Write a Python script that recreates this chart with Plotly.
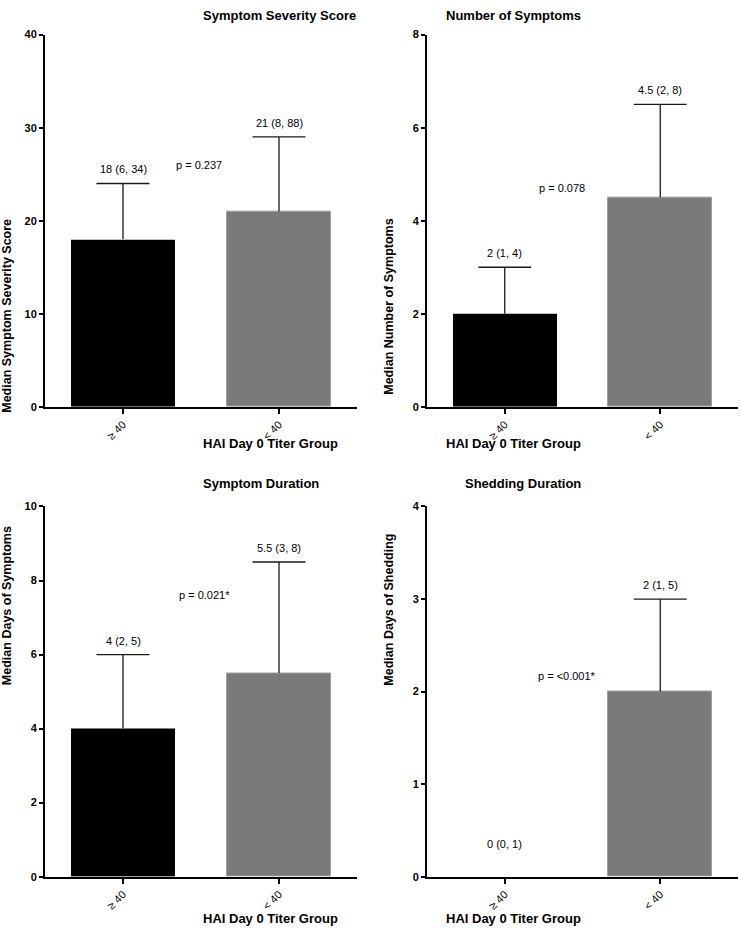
import plotly.graph_objects as go

groups = ["≥ 40", "< 40"]
titles = ["Symptom Severity Score", "Number of Symptoms", "Symptom Duration", "Shedding Duration"]
ytitles = ["Median Symptom Severity Score", "Median Number of Symptoms",
           "Median Days of Symptoms", "Median Days of Shedding"]
medians = [[18, 21], [2, 4.5], [4, 5.5], [0, 2]]
err_top = [[24, 29], [3, 6.5], [6, 8.5], [None, 3]]
labels = [["18 (6, 34)", "21 (8, 88)"], ["2 (1, 4)", "4.5 (2, 8)"],
          ["4 (2, 5)", "5.5 (3, 8)"], ["0 (0, 1)", "2 (1, 5)"]]
label_y = [[24, 29], [3, 6.5], [6, 8.5], [0.2, 3]]
pvals = ["p = 0.237", "p = 0.078", "p = 0.021*", "p = <0.001*"]
p_pos = [(0.49, 26), (0.37, 4.7), (0.52, 7.6), (0.40, 2.17)]
ymax = [40, 8, 10, 4]
ydtick = [10, 2, 2, 1]

W, H = 740, 934
xdom_px = [(45, 357), (427, 738), (45, 357), (427, 738)]
ydom_px = [(29, 406), (29, 406), (507, 882), (507, 882)]
bar_colors = ["#000000", "#7a7a7a"]
line_colors = ["#000000", "#a0a0a0"]
line_widths = [0, 1]
CAP = 0.17  # half-width of error-bar caps, in category units
FONT = "Liberation Sans, Arial, sans-serif"

fig = go.Figure()
annotations = []
for i in range(4):
    xa = "x" if i == 0 else f"x{i+1}"
    ya = "y" if i == 0 else f"y{i+1}"
    fig.add_trace(go.Bar(
        x=[0, 1], y=medians[i], xaxis=xa, yaxis=ya, width=0.67,
        marker=dict(color=bar_colors, line=dict(color=line_colors, width=line_widths)),
        showlegend=False, hoverinfo="skip"))
    ex, ey = [], []
    for j in range(2):
        t = err_top[i][j]
        if t is None:
            continue
        m = medians[i][j]
        ex += [j, j, None, j - CAP, j + CAP, None]
        ey += [m, t, None, t, t, None]
    fig.add_trace(go.Scatter(x=ex, y=ey, mode="lines", xaxis=xa, yaxis=ya,
                             line=dict(color="#1a1a1a", width=1.3),
                             showlegend=False, hoverinfo="skip", cliponaxis=False))
    x0, x1 = xdom_px[i]
    y0, y1 = ydom_px[i]
    xd = [x0 / W, x1 / W]
    yd = [1 - y1 / H, 1 - y0 / H]
    axk = "xaxis" if i == 0 else f"xaxis{i+1}"
    ayk = "yaxis" if i == 0 else f"yaxis{i+1}"
    fig.layout[axk] = dict(domain=xd, range=[-0.5, 1.5], anchor=ya,
                           tickvals=[0, 1], ticktext=groups, tickangle=-45,
                           ticks="outside", ticklen=5, tickwidth=1.5, tickcolor="black",
                           showline=True, linecolor="black", linewidth=2,
                           showgrid=False, zeroline=False,
                           tickfont=dict(family=FONT, size=11, color="black"))
    fig.layout[ayk] = dict(domain=yd, range=[0, ymax[i]], anchor=xa,
                           dtick=ydtick[i], tick0=0,
                           ticks="outside", ticklen=4, tickwidth=1.5, tickcolor="black",
                           showline=True, linecolor="black", linewidth=2,
                           showgrid=False, zeroline=False,
                           tickfont=dict(family=FONT, size=11, color="black",
                                         weight="bold"))
    for j in range(2):
        annotations.append(dict(x=j, y=label_y[i][j], xref=xa, yref=ya,
                                text=labels[i][j], showarrow=False, yanchor="bottom",
                                yshift=6, font=dict(family=FONT, size=11, color="black")))
    annotations.append(dict(x=p_pos[i][0], y=p_pos[i][1], xref=xa, yref=ya,
                            text=pvals[i], showarrow=False,
                            font=dict(family=FONT, size=11, color="black")))
    if i < 2:
        annotations.append(dict(x=(x0 + x1) / 2 / W, y=1, xref="paper", yref="paper",
                                text="<b>" + titles[i] + "</b>", showarrow=False,
                                yanchor="top",
                                font=dict(family=FONT, size=13, color="black")))
    else:
        annotations.append(dict(x=(x0 + x1) / 2 / W, y=1 - (y0 - 23) / H, xref="paper",
                                yref="paper", text="<b>" + titles[i] + "</b>",
                                showarrow=False, yanchor="middle",
                                font=dict(family=FONT, size=13, color="black")))
    if i < 2:
        annotations.append(dict(x=(x0 + x1) / 2 / W, y=1 - (y1 + 37) / H, xref="paper",
                                yref="paper", text="<b>HAI Day 0 Titer Group</b>",
                                showarrow=False, yanchor="middle",
                                font=dict(family=FONT, size=13, color="black")))
    else:
        annotations.append(dict(x=(x0 + x1) / 2 / W, y=0, xref="paper",
                                yref="paper", text="<b>HAI Day 0 Titer Group</b>",
                                showarrow=False, yanchor="bottom",
                                font=dict(family=FONT, size=13, color="black")))
    annotations.append(dict(x=(x0 - 38) / W, y=1 - ((y0 + y1) / 2 - 4) / H, xref="paper",
                            yref="paper", text="<b>" + ytitles[i] + "</b>",
                            showarrow=False, textangle=-90, xanchor="center",
                            font=dict(family=FONT, size=12.5, color="black")))

fig.update_layout(width=W, height=H, margin=dict(l=0, r=0, t=0, b=0),
                  plot_bgcolor="white", paper_bgcolor="white",
                  annotations=annotations, bargap=0)
fig.write_html("out.html", config={"displayModeBar": False},
               post_script="document.body.style.margin='0';")
